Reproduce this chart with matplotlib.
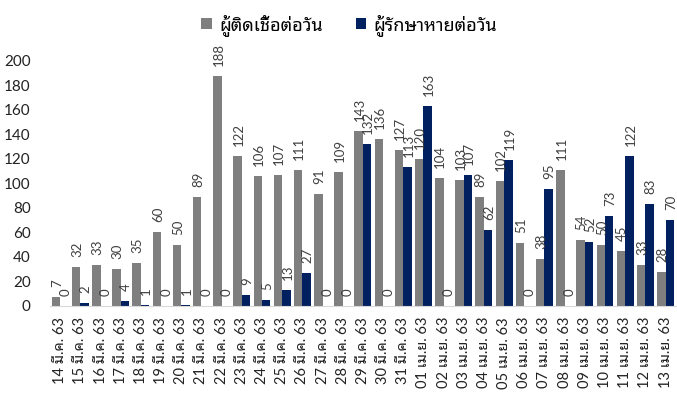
import numpy as np
import matplotlib
matplotlib.use('Agg')
import matplotlib.pyplot as plt

plt.rcParams['font.family'] = ['Lato', 'Noto Sans Thai Looped', 'DejaVu Sans']

dates = ['14 มี.ค. 63', '15 มี.ค. 63', '16 มี.ค. 63', '17 มี.ค. 63', '18 มี.ค. 63',
         '19 มี.ค. 63', '20 มี.ค. 63', '21 มี.ค. 63', '22 มี.ค. 63', '23 มี.ค. 63',
         '24 มี.ค. 63', '25 มี.ค. 63', '26 มี.ค. 63', '27 มี.ค. 63', '28 มี.ค. 63',
         '29 มี.ค. 63', '30 มี.ค. 63', '31 มี.ค. 63', '01 เม.ย. 63', '02 เม.ย. 63',
         '03 เม.ย. 63', '04 เม.ย. 63', '05 เม.ย. 63', '06 เม.ย. 63', '07 เม.ย. 63',
         '08 เม.ย. 63', '09 เม.ย. 63', '10 เม.ย. 63', '11 เม.ย. 63', '12 เม.ย. 63',
         '13 เม.ย. 63']
new_cases = [7, 32, 33, 30, 35, 60, 50, 89, 188, 122, 106, 107, 111, 91, 109, 143,
             136, 127, 120, 104, 103, 89, 102, 51, 38, 111, 54, 50, 45, 33, 28]
recovered = [0, 2, 0, 4, 1, 0, 1, 0, 0, 9, 5, 13, 27, 0, 0, 132,
             0, 113, 163, 0, 107, 62, 119, 0, 95, 0, 52, 73, 122, 83, 70]

GRAY = '#7f7f7f'
NAVY = '#002060'
w = 0.42

fig = plt.figure(figsize=(6.77, 4.03), dpi=100)
ax = fig.add_axes([0.074, 0.241, 0.924, 0.608])

x = np.arange(len(dates))
b1 = ax.bar(x - w / 2, new_cases, w, color=GRAY, label='ผู้ติดเชื้อต่อวัน')
b2 = ax.bar(x + w / 2, recovered, w, color=NAVY, label='ผู้รักษาหายต่อวัน')

# value labels, rotated, sitting above each bar
for bars, vals in ((b1, new_cases), (b2, recovered)):
    for rect, v in zip(bars, vals):
        ax.annotate(str(v), (rect.get_x() + rect.get_width() / 2, v),
                    xytext=(1, 10), textcoords='offset pixels',
                    rotation=90, ha='center', va='bottom',
                    fontsize=9.5, color='#404040', annotation_clip=False)

ax.set_xlim(-0.5, len(dates) - 0.5)
ax.set_ylim(0, 200)
ax.set_yticks(np.arange(0, 201, 20))
ax.set_xticks(x)
ax.set_xticklabels(dates, rotation=90, fontsize=10.5, color='#222222')
ax.tick_params(axis='y', labelsize=11, length=0, pad=14, labelcolor='#222222')
ax.tick_params(axis='x', length=0, pad=8)

for s in ('top', 'right', 'left'):
    ax.spines[s].set_visible(False)
ax.spines['bottom'].set_color('#d9d9d9')

fig.legend(loc='center', bbox_to_anchor=(0.516, 0.938), ncol=2, frameon=False,
           fontsize=13, handlelength=0.6, handleheight=0.6, handletextpad=0.4,
           columnspacing=1.8)

fig.savefig('out.png')
